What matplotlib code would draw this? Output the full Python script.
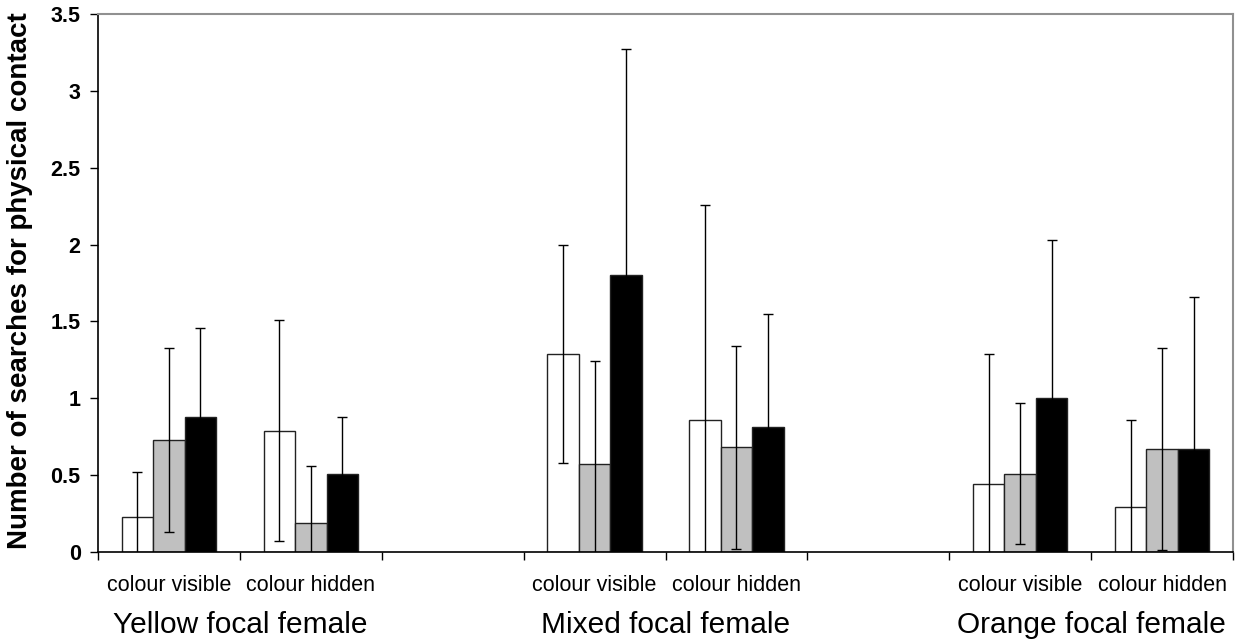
import matplotlib.pyplot as plt
import numpy as np

plt.rcParams['font.family'] = ['Liberation Sans', 'DejaVu Sans']

# slot positions: 8 slots, 2 empty spacers between focal female groups
slots = [0, 1, 3, 4, 6, 7]
cond_labels = ["colour visible", "colour hidden"] * 3
group_labels = ["Yellow focal female", "Mixed focal female", "Orange focal female"]

white_means = [0.23, 0.79, 1.29, 0.86, 0.44, 0.29]
white_err = [0.29, 0.72, 0.71, 1.40, 0.85, 0.57]
grey_means = [0.73, 0.19, 0.57, 0.68, 0.51, 0.67]
grey_err = [0.60, 0.37, 0.67, 0.66, 0.46, 0.66]
black_means = [0.88, 0.51, 1.80, 0.81, 1.00, 0.67]
black_err = [0.58, 0.37, 1.47, 0.74, 1.03, 0.99]

fig = plt.figure(figsize=(12.41, 6.42), dpi=100)
ax = fig.add_axes([0.0790, 0.1402, 0.9146, 0.8380])

x = np.array(slots) + 0.5
w = 0.222
series = [(white_means, white_err, 'white'),
          (grey_means, grey_err, '#c0c0c0'),
          (black_means, black_err, 'black')]
for i, (m, e, c) in enumerate(series):
    pos = x + (i - 1) * w
    ax.bar(pos, m, width=w, color=c, edgecolor='#222222', linewidth=1.0, zorder=2)
    ax.errorbar(pos, m, yerr=e, fmt='none', ecolor='black', elinewidth=1.0,
                capsize=3.8, capthick=1.0, zorder=3)

ax.set_xlim(0, 8)
ax.set_ylim(0, 3.5)
ax.set_yticks(np.arange(0, 3.51, 0.5))
ax.set_yticklabels(['0', '0.5', '1', '1.5', '2', '2.5', '3', '3.5'],
                   fontsize=15.5, fontweight='bold')
ax.set_xticks(np.arange(0, 9))
ax.set_xticklabels([])
ax.tick_params(axis='both', direction='out', length=5.5, width=1, colors='black')
ax.tick_params(axis='y', pad=7)

for s in ['top', 'right']:
    ax.spines[s].set_color('#909090')
    ax.spines[s].set_linewidth(1.5)
for s in ['left', 'bottom']:
    ax.spines[s].set_color('black')
    ax.spines[s].set_linewidth(1.2)

fig.text(20 / 1241, 1 - 281 / 642, 'Number of searches for physical contact',
         rotation=90, ha='center', va='center', fontsize=20, fontweight='bold')

for xi, lab in zip(x, cond_labels):
    ax.text(xi, -0.215, lab, ha='center', va='center', fontsize=15.5, clip_on=False)
for k, lab in enumerate(group_labels):
    ax.text(slots[2 * k] + 1.0, -0.475, lab, ha='center', va='center', fontsize=21.5,
            clip_on=False)

fig.savefig('out.png', dpi=100)
